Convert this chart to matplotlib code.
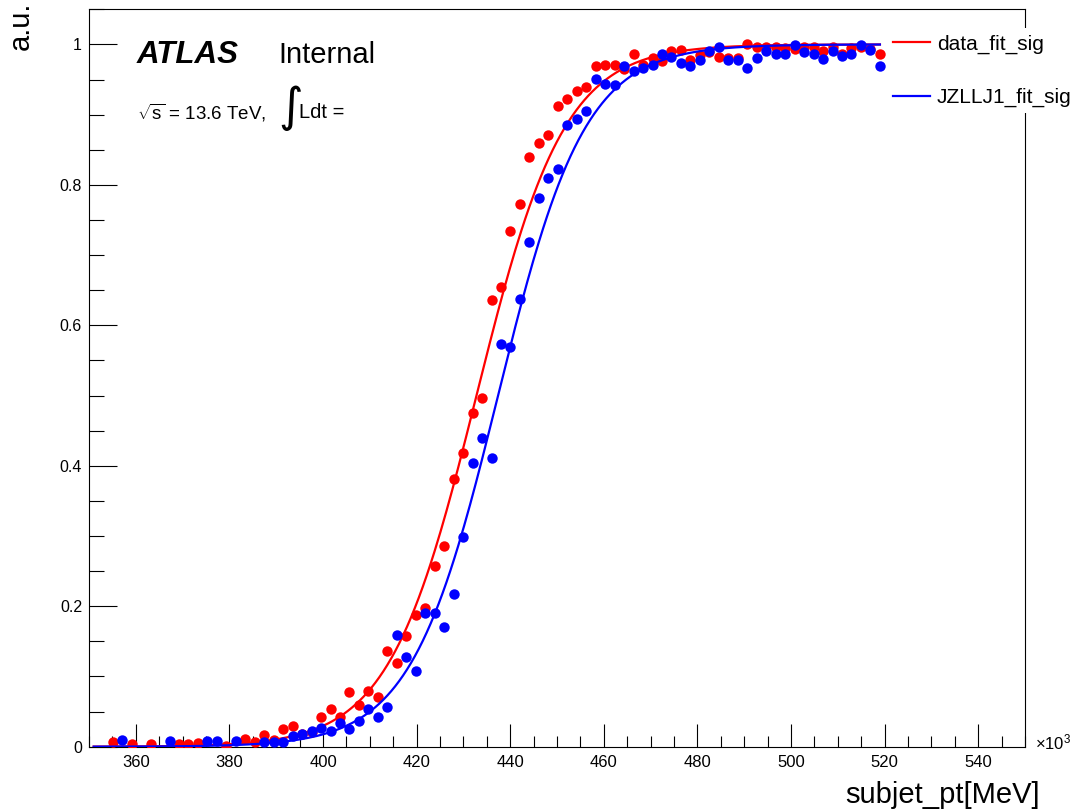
import numpy as np
import matplotlib
matplotlib.use('Agg')
import matplotlib.pyplot as plt
from matplotlib.ticker import MultipleLocator

plt.rcParams['font.family'] = ['Liberation Sans', 'DejaVu Sans']
plt.rcParams['mathtext.fontset'] = 'custom'
plt.rcParams['mathtext.rm'] = 'Liberation Sans'
plt.rcParams['mathtext.it'] = 'Liberation Sans:italic'

# histogram binning (x in units of 10^3 MeV)
bin_edges = np.linspace(350, 520, 85)
nan = np.nan

# efficiency per bin (nan = empty bin, not drawn)
data_eff = [
    nan, nan, 0.006, nan, 0.004, nan, 0.004, nan, nan, 0.004,
    0.004, 0.005, nan, nan, 0.001, nan, 0.011, 0.007, 0.017, 0.010,
    0.025, 0.029, 0.018, 0.021, 0.043, 0.054, 0.042, 0.078, 0.060, 0.080,
    0.071, 0.136, 0.119, 0.158, 0.188, 0.197, 0.257, 0.286, 0.381, 0.418,
    0.475, 0.497, 0.636, 0.654, 0.734, 0.773, 0.840, 0.859, 0.871, 0.912,
    0.922, 0.933, 0.939, 0.969, 0.971, 0.970, 0.965, 0.986, 0.971, 0.981,
    0.977, 0.990, 0.992, 0.978, 0.985, 0.989, 0.982, 0.980, 0.980, 1.000,
    0.997, 0.997, 0.997, 0.995, 0.993, 0.997, 0.996, 0.990, 0.996, 0.986,
    0.995, 0.996, 0.993, 0.986,
]
mc_eff = [
    nan, nan, nan, 0.010, nan, nan, nan, nan, 0.008, nan,
    nan, nan, 0.008, 0.008, nan, 0.008, nan, nan, 0.007, 0.007,
    0.007, 0.015, 0.018, 0.022, 0.027, 0.022, 0.034, 0.025, 0.037, 0.054,
    0.042, 0.057, 0.159, 0.128, 0.108, 0.190, 0.190, 0.171, 0.218, 0.299,
    0.404, 0.440, 0.411, 0.573, 0.569, 0.637, 0.719, 0.781, 0.810, 0.823,
    0.885, 0.894, 0.905, 0.951, 0.943, 0.942, 0.969, 0.962, 0.966, 0.971,
    0.986, 0.982, 0.974, 0.969, 0.978, 0.990, 0.996, 0.978, 0.978, 0.967,
    0.981, 0.990, 0.987, 0.987, 0.999, 0.989, 0.986, 0.979, 0.990, 0.984,
    0.987, 0.999, 0.992, 0.969,
]

# sigmoid fit parameters: plateau, midpoint, width
fit_range = (351, 519)
data_fit = (1.0, 432.8, 9.4)
mc_fit = (1.0, 437.4, 9.3)

x_ticks = [360, 380, 400, 420, 440, 460, 480, 500, 520, 540]
y_ticks = [0, 0.2, 0.4, 0.6, 0.8, 1.0]
y_ticklabels = ['0', '0.2', '0.4', '0.6', '0.8', '1']


def sigmoid(x, p):
    a, mu, s = p
    return a / (1.0 + np.exp(-(x - mu) / s))


centers = 0.5 * (bin_edges[:-1] + bin_edges[1:])
xf = np.linspace(fit_range[0], fit_range[1], 400)

fig = plt.figure(figsize=(10.76, 8.11), dpi=100)
ax = fig.add_axes([89 / 1076, 1 - 746.7 / 811, (1025 - 89) / 1076, (746.7 - 9.3) / 811])

ax.plot(centers, data_eff, 'o', color='#ff0000', ms=7.5, mec='none', zorder=3)
line_d, = ax.plot(xf, sigmoid(xf, data_fit), color='#ff0000', lw=1.6, zorder=4)
ax.plot(centers, mc_eff, 'o', color='#0000ff', ms=7.5, mec='none', zorder=5)
line_m, = ax.plot(xf, sigmoid(xf, mc_fit), color='#0000ff', lw=1.6, zorder=6)

ax.set_xlim(350, 550)
ax.set_ylim(0, 1.05)
ax.set_xticks(x_ticks)
ax.xaxis.set_minor_locator(MultipleLocator(5))
ax.set_yticks(y_ticks)
ax.set_yticklabels(y_ticklabels)
ax.yaxis.set_minor_locator(MultipleLocator(0.05))
ax.tick_params(axis='x', which='both', direction='in', top=False, labelsize=12, pad=6)
ax.tick_params(axis='y', which='both', direction='in', right=False, labelsize=11.5, pad=5)
ax.tick_params(axis='x', which='major', length=16.5, width=0.8)
ax.tick_params(axis='x', which='minor', length=8, width=0.8)
ax.tick_params(axis='y', which='major', length=20, width=0.8)
ax.tick_params(axis='y', which='minor', length=10.5, width=0.8)
for sp in ax.spines.values():
    sp.set_linewidth(0.8)


def px(x, y):
    return x / 1076, 1 - y / 811


fig.text(*px(137, 55), 'ATLAS', fontsize=22.5, fontweight='bold', fontstyle='italic', va='center')
fig.text(*px(278, 55), 'Internal', fontsize=21, va='center')
fig.text(*px(137, 113), r'$\sqrt{\mathrm{s}}$ = 13.6 TeV,', fontsize=13.5, va='center')
fig.text(*px(291, 108), '\u222b', fontsize=34, family='DejaVu Sans', va='center', ha='center')
fig.text(*px(299, 113), 'Ldt =', fontsize=14.5, va='center')

fig.text(*px(1035, 742), '\u00d710$^3$', fontsize=12, va='center', ha='left')
fig.text(*px(1040, 795), 'subjet_pt[MeV]', fontsize=21, va='center', ha='right')
fig.text(*px(21, 2), 'a.u.', fontsize=21, rotation=90, va='top', ha='center')

leg = fig.legend([line_d, line_m], ['data_fit_sig', 'JZLLJ1_fit_sig'],
                 loc='upper left', bbox_to_anchor=px(887, 28), fontsize=15,
                 frameon=True, fancybox=False, edgecolor='none', facecolor='white',
                 framealpha=1, handlelength=1.75, handletextpad=0.35,
                 labelspacing=1.65, borderpad=0.3, borderaxespad=0)
leg.set_zorder(10)

fig.savefig('out.png', dpi=100)
